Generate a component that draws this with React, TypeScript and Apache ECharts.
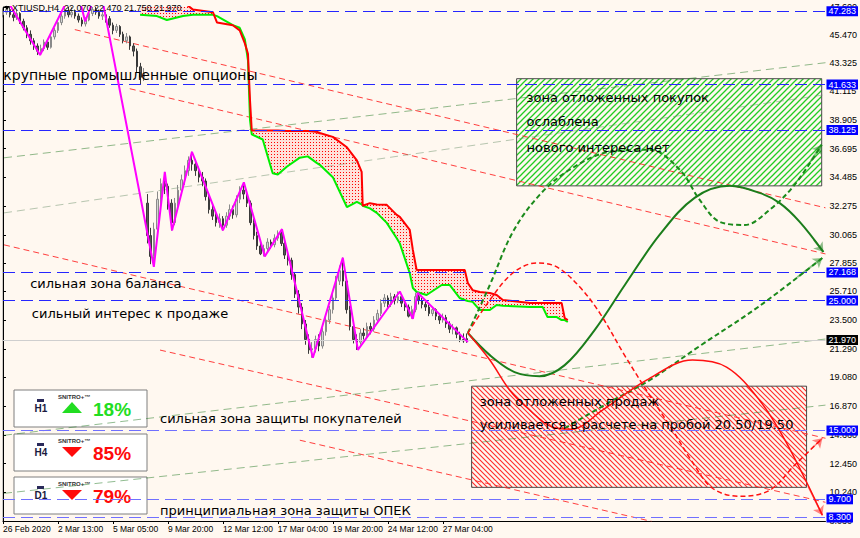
import React, { useEffect, useRef } from "react";
import * as echarts from "echarts";

// ---------- data ----------
const headerText = "XTIUSD,H4  22.070 22.470 21.750 21.970";

const timeLabels = ["26 Feb 2020", "2 Mar 13:00", "5 Mar 05:00", "9 Mar 20:00", "12 Mar 12:00", "17 Mar 04:00", "19 Mar 20:00", "24 Mar 12:00", "27 Mar 04:00"];
const timeLabelBars = [0, 16, 32, 48, 64, 80, 96, 112, 128];
const barsMax = 239.4;

const priceTicks = [8.03, 10.24, 12.45, 14.66, 16.87, 19.08, 21.29, 23.5, 25.71, 27.855, 30.065, 32.275, 34.485, 36.695, 38.905, 41.115, 43.325, 45.47, 47.6];
const priceMin = 8.03;
const priceMax = 47.6;

// [open, close, low, high]
const candles = [
  [47.0, 47.2, 46.8, 47.5], [47.2, 47.4, 47.0, 47.7], [47.4, 47.0, 46.8, 47.6], [47.0, 46.8, 46.5, 47.2],
  [46.8, 47.1, 46.6, 47.4], [47.1, 46.5, 46.3, 47.2], [46.5, 46.0, 45.8, 46.7], [46.0, 45.5, 45.2, 46.2],
  [45.5, 45.0, 44.7, 45.8], [45.0, 44.6, 44.3, 45.2], [44.6, 44.2, 43.9, 44.8], [44.2, 44.4, 44.0, 44.7],
  [44.4, 44.9, 44.2, 45.1], [44.9, 44.5, 44.3, 45.0], [44.5, 45.3, 44.4, 45.5], [45.3, 45.8, 45.1, 46.0],
  [45.8, 46.4, 45.6, 46.6], [46.4, 46.9, 46.2, 47.1], [46.9, 47.3, 46.7, 47.6], [47.3, 47.0, 46.8, 47.6],
  [47.0, 47.2, 46.8, 47.6], [47.2, 46.9, 46.7, 47.4], [46.9, 46.6, 46.4, 47.1], [46.6, 46.3, 46.1, 46.8],
  [46.3, 46.6, 46.1, 46.8], [46.6, 47.1, 46.5, 47.3], [47.1, 47.4, 46.9, 47.6], [47.4, 47.2, 47.0, 47.6],
  [47.2, 46.9, 46.7, 47.4], [46.9, 47.0, 46.6, 47.3], [47.0, 46.7, 46.4, 47.2], [46.7, 46.2, 46.0, 46.9],
  [46.2, 45.8, 45.5, 46.4], [45.8, 46.1, 45.6, 46.3], [46.1, 45.5, 45.3, 46.2], [45.5, 45.0, 44.8, 45.7],
  [45.0, 45.3, 44.8, 45.6], [45.3, 44.6, 44.3, 45.4], [44.6, 44.2, 43.8, 44.8], [44.2, 43.0, 42.6, 44.4],
  [43.0, 42.2, 41.6, 43.3], [42.2, 42.5, 41.9, 42.9], [32.5, 30.0, 29.4, 33.2], [30.0, 28.4, 27.8, 30.6],
  [28.4, 30.5, 27.6, 31.0], [30.5, 32.8, 30.2, 33.4], [32.8, 34.0, 32.2, 34.4], [34.0, 33.8, 33.2, 34.9],
  [33.8, 32.5, 32.0, 34.0], [32.5, 31.0, 30.4, 32.8], [31.0, 32.5, 30.8, 32.9], [32.5, 33.5, 32.1, 33.9],
  [33.5, 34.3, 33.2, 34.7], [34.3, 35.0, 33.9, 35.4], [35.0, 35.8, 34.6, 36.1], [35.8, 35.5, 35.0, 36.45],
  [35.5, 35.0, 34.6, 35.9], [35.0, 34.5, 34.1, 35.3], [34.5, 34.2, 33.8, 34.9], [34.2, 33.0, 32.7, 34.4],
  [33.0, 32.0, 31.7, 33.3], [32.0, 31.5, 31.2, 32.4], [31.5, 31.0, 30.7, 31.8], [31.0, 31.3, 30.6, 31.7],
  [31.3, 30.8, 30.4, 31.5], [30.8, 31.5, 30.6, 31.8], [31.5, 32.0, 31.2, 32.4], [32.0, 31.6, 31.3, 32.3],
  [31.6, 32.8, 31.4, 33.1], [32.8, 33.5, 32.5, 33.8], [33.5, 33.2, 32.8, 34.1], [33.2, 32.5, 32.2, 33.5],
  [32.5, 31.0, 30.8, 32.7], [31.0, 30.0, 29.7, 31.3], [30.0, 29.2, 28.9, 30.3], [29.2, 28.6, 28.5, 29.6],
  [28.6, 29.0, 28.4, 29.3], [29.0, 29.5, 28.8, 29.8], [29.5, 29.3, 29.0, 29.7], [29.3, 29.8, 29.1, 30.1],
  [29.8, 30.2, 29.6, 30.4], [30.2, 29.4, 29.2, 30.5], [29.4, 28.5, 28.2, 29.6], [28.5, 28.1, 27.7, 28.7],
  [28.1, 27.0, 26.6, 28.3], [27.0, 25.5, 25.2, 27.2], [25.5, 24.5, 24.0, 25.8], [24.5, 23.2, 22.8, 24.8],
  [23.2, 22.0, 21.6, 23.5], [22.0, 21.2, 20.9, 22.4], [21.2, 21.3, 20.6, 21.8], [21.3, 22.0, 21.0, 22.3],
  [22.0, 21.5, 21.1, 22.4], [21.5, 22.6, 21.3, 22.9], [22.6, 23.5, 22.3, 23.8], [23.5, 24.3, 23.2, 24.6],
  [24.3, 25.2, 24.0, 25.5], [25.2, 26.5, 25.0, 26.9], [26.5, 27.3, 26.2, 27.7], [27.3, 26.5, 26.1, 28.3],
  [26.5, 24.3, 24.0, 26.8], [24.3, 23.0, 22.7, 24.6], [23.0, 22.0, 21.7, 23.3], [22.0, 21.8, 21.2, 22.4],
  [21.8, 22.5, 21.6, 22.8], [22.5, 22.3, 22.0, 22.9], [22.3, 23.0, 22.1, 23.3], [23.0, 22.8, 22.4, 23.3],
  [22.8, 23.5, 22.6, 23.8], [23.5, 24.0, 23.2, 24.3], [24.0, 24.8, 23.8, 25.1], [24.8, 25.2, 24.5, 25.5],
  [25.2, 24.7, 24.4, 25.4], [24.7, 25.3, 24.5, 25.6], [25.3, 25.0, 24.7, 25.5], [25.0, 25.3, 24.8, 25.7],
  [25.3, 24.8, 24.5, 25.5], [24.8, 24.5, 24.2, 25.0], [24.5, 23.8, 23.7, 24.7], [23.8, 24.3, 23.6, 24.6],
  [24.3, 25.3, 24.1, 25.6], [25.3, 25.0, 24.7, 25.5], [25.0, 24.7, 24.4, 25.2], [24.7, 24.5, 24.2, 24.9],
  [24.5, 24.0, 23.8, 24.7], [24.0, 24.3, 23.8, 24.5], [24.3, 23.8, 23.5, 24.4], [23.8, 23.5, 23.2, 24.0],
  [23.5, 23.7, 23.3, 24.0], [23.7, 23.2, 22.9, 23.9], [23.2, 22.8, 22.5, 23.4], [22.8, 22.9, 22.4, 23.2],
  [22.9, 22.4, 22.1, 23.0], [22.4, 22.0, 21.8, 22.6], [22.0, 21.9, 21.75, 22.47], [22.07, 21.97, 21.75, 22.47],
];

// zigzag vertices [bar, price]
const zigzag = [
  [0.3, 48.5], [10.8, 43.9], [21.1, 49.4], [23.9, 46.5], [28.1, 49.3], [43.9, 27.6], [47.1, 34.9], [49.2, 30.4],
  [55.0, 36.45], [64.0, 30.4], [70.1, 34.1], [76.2, 28.4], [81.2, 30.5], [90.2, 20.6], [98.9, 28.3],
  [103.3, 21.2], [115.5, 25.7], [119.3, 23.6], [120.7, 25.6], [135.3, 21.8],
];

// cloud: bar, red span, green span
const cloudBars = [39.9, 44.8, 47.7, 52.4, 55.3, 61.1, 62.3, 66.9, 68.9, 70.4, 71.3, 71.9, 72.4, 75.6, 78.5, 80.0, 82.6, 86.4, 88.7, 91.3, 92.2, 96.0, 100.1, 103.0, 104.4, 104.7, 106.8, 108.8, 111.7, 114.6, 115.5, 118.4, 119.3, 120.4, 123.3, 127.7, 130.0, 132.9, 134.4, 135.3, 136.7, 138.8, 141.7, 143.7, 145.5, 153.3, 157.1, 158.5, 161.2, 162.6, 163.5, 164.4];
const cloudRed = [48.5, 48.5, 48.5, 48.0, 47.4, 47.2, 46.4, 46.2, 45.8, 44.8, 44.0, 40.4, 38.1, 38.1, 38.1, 38.1, 38.05, 38.05, 38.05, 38.0, 37.9, 37.6, 36.8, 35.8, 34.9, 32.3, 32.5, 32.4, 32.37, 31.6, 31.45, 30.44, 28.9, 27.35, 27.35, 27.35, 27.35, 27.35, 27.35, 26.35, 25.8, 25.66, 25.58, 25.43, 25.04, 24.81, 24.81, 24.81, 24.81, 24.81, 23.65, 23.5];
const cloudGreen = [47.0, 46.9, 46.6, 46.9, 47.0, 47.0, 46.9, 46.2, 46.0, 45.1, 43.5, 38.9, 37.8, 37.4, 34.8, 34.7, 35.3, 36.0, 36.1, 35.6, 35.45, 34.5, 32.2, 32.6, 32.4, 32.3, 32.1, 31.75, 30.98, 29.8, 29.4, 27.1, 25.97, 25.66, 25.43, 26.2, 26.2, 25.2, 25.04, 24.97, 24.9, 24.27, 24.27, 24.66, 24.6, 24.5, 24.5, 23.73, 23.73, 23.5, 23.5, 23.35];

const levels = [47.283, 41.633, 38.125, 27.168, 25.0, 15.0, 9.7, 8.3];
const lastPrice = 21.97;

const redTrendLines = [
  [[20.9, 45.86], [239.4, 32.14]],
  [[36.9, 41.31], [239.4, 28.59]],
  [[0.3, 29.29], [239.4, 14.4]],
  [[45.7, 21.19], [239.4, 9.47]],
  [[86.4, 14.25], [188.8, 8.0]],
];
const greenTrendLines = [
  [[0.3, 35.99], [239.4, 43.31]],
  [[0.3, 31.75], [239.4, 40.85]],
  [[0.3, 14.63], [239.4, 22.04]],
  [[0.3, 10.16], [239.4, 16.95]],
];

const greenSolidPath = [[135.3, 22.5], [141.7, 20.8], [148.9, 19.49], [156.2, 19.18], [163.5, 20.03], [172.2, 22.73], [181.0, 26.2], [191.1, 30.05], [201.3, 32.91], [211.5, 33.83], [220.2, 33.29], [226.0, 32.52], [231.9, 31.06], [238.8, 28.74]];
const greenDashUpPath = [[135.3, 22.5], [141.7, 26.2], [148.4, 30.28], [156.2, 33.14], [164.9, 35.07], [176.6, 36.45], [188.2, 36.61], [197.0, 35.07], [202.8, 32.75], [208.6, 31.06], [215.9, 30.82], [223.1, 31.98], [230.4, 33.91], [238.3, 36.99]];
const greenDashRecoveryPath = [[163.5, 15.17], [176.6, 17.18], [188.2, 18.87], [202.8, 21.5], [220.2, 24.58], [238.5, 28.28]];
const redDashPath = [[135.3, 22.5], [141.7, 25.04], [148.4, 27.12], [155.3, 27.89], [161.2, 27.59], [167.9, 26.04], [173.7, 24.04], [180.9, 20.8], [188.2, 17.72], [194.9, 15.02], [200.7, 12.55], [206.5, 10.55], [214.4, 9.93], [223.1, 10.39], [230.4, 12.32], [238.5, 14.4]];
const redSolidPath = [[135.3, 22.5], [141.7, 20.42], [147.5, 18.1], [152.4, 16.79], [160.0, 15.25], [165.5, 15.1], [174.5, 16.56], [187.3, 18.87], [200.7, 20.42], [210.6, 19.88], [220.2, 17.33], [228.1, 14.02], [238.5, 8.47]];

const buyZone = { from: 149.5, to: 238.3, low: 33.83, high: 42.08 };
const sellZone = { from: 136.4, to: 233.9, low: 10.62, high: 18.41 };

const notes = [
  { text: "крупные промышленные опционы", bar: 0.1, price: 42.39, kind: "big" },
  { text: "сильная зона баланса", bar: 7.9, price: 26.28, kind: "level" },
  { text: "сильный интерес к продаже", bar: 8.4, price: 24.04, kind: "level" },
  { text: "сильная зона защиты покупателей", bar: 45.7, price: 15.94, kind: "level" },
  { text: "принципиальная зона защиты ОПЕК", bar: 45.7, price: 8.85, kind: "level" },
  { text: "зона отложенных покупок", bar: 152.4, price: 40.62, kind: "box" },
  { text: "ослаблена", bar: 152.4, price: 38.77, kind: "box" },
  { text: "нового интереса нет", bar: 152.4, price: 36.76, kind: "box" },
  { text: "зона отложенных продаж", bar: 138.8, price: 17.25, kind: "box" },
  { text: "усиливается в расчете на пробой 20.50/19.50", bar: 138.8, price: 15.48, kind: "box" },
];

const signalTimeframes = ["H1", "H4", "D1"];
const signalUp = [true, false, false];
const signalPercent = [18, 85, 79];

// ---------- helpers ----------
function makeCanvas(w: number, h: number, draw: (ctx: CanvasRenderingContext2D) => void) {
  const c = document.createElement("canvas");
  c.width = w;
  c.height = h;
  const ctx = c.getContext("2d") as CanvasRenderingContext2D;
  draw(ctx);
  return c;
}

const FONT = "'DejaVu Sans', 'Noto Sans', sans-serif";
const AXFONT = "'Liberation Sans', Arial, sans-serif";

export default function App() {
  const ref = useRef<HTMLDivElement>(null);

  useEffect(() => {
    if (!ref.current) return;
    const chart = echarts.init(ref.current, undefined, { renderer: "svg" });

    const dots = makeCanvas(3, 3, (ctx) => {
      ctx.fillStyle = "rgba(255,60,60,0.12)";
      ctx.fillRect(0, 0, 3, 3);
      ctx.fillStyle = "#ff0000";
      ctx.fillRect(1, 1, 1, 1);
    });
    const hatchGreen = makeCanvas(6, 6, (ctx) => {
      ctx.strokeStyle = "#22cc22";
      ctx.lineWidth = 1.3;
      ctx.beginPath();
      ctx.moveTo(0, 6); ctx.lineTo(6, 0);
      ctx.moveTo(-1, 1); ctx.lineTo(1, -1);
      ctx.moveTo(5, 7); ctx.lineTo(7, 5);
      ctx.stroke();
    });
    const hatchRed = makeCanvas(5, 5, (ctx) => {
      ctx.strokeStyle = "#ff2a2a";
      ctx.lineWidth = 1.1;
      ctx.beginPath();
      ctx.moveTo(0, 0); ctx.lineTo(5, 5);
      ctx.moveTo(-1, 4); ctx.lineTo(1, 6);
      ctx.moveTo(4, -1); ctx.lineTo(6, 1);
      ctx.stroke();
    });

    const forecasts = [
      { path: greenSolidPath, color: "#1b7d1b", type: "solid", width: 2 },
      { path: greenDashUpPath, color: "#1b8a1b", type: [5, 3], width: 2 },
      { path: greenDashRecoveryPath, color: "#1b8a1b", type: [5, 3], width: 2 },
      { path: redDashPath, color: "#ff1010", type: [5, 3], width: 1.5 },
      { path: redSolidPath, color: "#ff1010", type: "solid", width: 1.5 },
    ];

    const arrowData = forecasts.map((f) => {
      const a = f.path[f.path.length - 2];
      const b = f.path[f.path.length - 1];
      const s = [a[0] + (b[0] - a[0]) * 0.6, a[1] + (b[1] - a[1]) * 0.6];
      return { coords: [s, b], lineStyle: { color: f.color, width: f.width, type: "solid" } };
    });

    const levelColor = (v: number) => (v < 16 ? "#7070ff" : "#2626ff");

    const option: any = {
      animation: false,
      backgroundColor: "#fff8f0",
      grid: { left: 3, right: 34, top: 7, bottom: 17 },
      xAxis: {
        type: "value",
        min: 0,
        max: barsMax,
        splitLine: { show: false },
        axisLine: { show: true, lineStyle: { color: "#000", width: 1 } },
        axisTick: { show: true, customValues: timeLabelBars, length: 3, lineStyle: { color: "#000" } },
        axisLabel: {
          customValues: timeLabelBars,
          formatter: (v: number) => {
            const k = timeLabelBars.indexOf(v);
            return k >= 0 ? timeLabels[k] : "";
          },
          align: "left",
          fontSize: 8.5,
          fontFamily: AXFONT,
          color: "#000",
          margin: 3,
        },
      },
      yAxis: {
        type: "value",
        position: "right",
        min: priceMin,
        max: priceMax,
        scale: true,
        splitLine: { show: false },
        axisLine: { show: true, lineStyle: { color: "#000", width: 1 } },
        axisTick: { show: true, customValues: priceTicks, length: 3, lineStyle: { color: "#000" } },
        axisLabel: {
          customValues: priceTicks,
          formatter: (v: number) => v.toFixed(3),
          fontSize: 9,
          fontFamily: AXFONT,
          color: "#000",
          margin: 4,
        },
      },
      series: [
        {
          type: "line",
          data: [],
          silent: true,
          z: 1,
          markArea: {
            silent: true,
            data: [
              [
                { coord: [buyZone.from, buyZone.high], itemStyle: { color: { image: hatchGreen, repeat: "repeat" }, borderColor: "#4a4a4a", borderWidth: 1 } },
                { coord: [buyZone.to, buyZone.low] },
              ],
              [
                { coord: [sellZone.from, sellZone.high], itemStyle: { color: { image: hatchRed, repeat: "repeat" }, borderColor: "#4a4a4a", borderWidth: 1 } },
                { coord: [sellZone.to, sellZone.low] },
              ],
            ],
          },
        },
        {
          type: "lines",
          coordinateSystem: "cartesian2d",
          silent: true,
          z: 2,
          data: redTrendLines.map((c) => ({ coords: c })),
          lineStyle: { color: "#ff2a2a", width: 1, type: [6, 4], opacity: 0.9 },
        },
        {
          type: "lines",
          coordinateSystem: "cartesian2d",
          silent: true,
          z: 2,
          data: greenTrendLines.map((c, k) => ({ coords: c, lineStyle: { color: k === 1 ? "#6f946f" : "#247a24" } })),
          lineStyle: { width: 1, type: [8, 5] },
        },
        {
          type: "candlestick",
          data: candles.map((c, k) => [k, c[0], c[1], c[2], c[3]]),
          barWidth: 2,
          silent: true,
          z: 3,
          itemStyle: { color: "#d4d4d4", color0: "#585858", borderColor: "#8a8a8a", borderColor0: "#3a3a3a", borderWidth: 1 },
        },
        {
          type: "custom",
          coordinateSystem: "cartesian2d",
          clip: true,
          silent: true,
          z: 3,
          data: [[cloudBars[0], cloudRed[0]]],
          renderItem: (_params: any, api: any) => {
            const top = cloudBars.map((b, k) => api.coord([b, cloudRed[k]]));
            const bottom = cloudBars.map((b, k) => api.coord([b, Math.min(cloudRed[k], cloudGreen[k])])).reverse();
            return {
              type: "polygon",
              shape: { points: top.concat(bottom) },
              style: { fill: { image: dots, repeat: "repeat" }, stroke: "none" },
            };
          },
        },
        {
          type: "line",
          data: cloudBars.map((b, k) => [b, cloudGreen[k]]),
          showSymbol: false,
          silent: true,
          lineStyle: { color: "#00ee00", width: 2 },
          z: 4,
        },
        {
          type: "line",
          data: cloudBars.map((b, k) => [b, cloudRed[k]]),
          showSymbol: false,
          silent: true,
          lineStyle: { color: "#ff0000", width: 2 },
          z: 4,
        },
        {
          type: "line",
          data: zigzag,
          showSymbol: false,
          silent: true,
          lineStyle: { color: "#ff00ff", width: 2 },
          z: 5,
        },
        {
          type: "line",
          data: [],
          silent: true,
          z: 6,
          markLine: {
            silent: true,
            symbol: "none",
            data: [
              ...levels.map((v) => ({
                yAxis: v,
                lineStyle: { color: levelColor(v), type: [12, 6], width: 1 },
                label: {
                  show: true,
                  position: "end",
                  distance: 1,
                  formatter: v.toFixed(3),
                  backgroundColor: "#0000ff",
                  color: "#fff",
                  fontSize: 9,
                  fontFamily: AXFONT,
                  padding: [1, 2, 0, 2],
                },
              })),
              {
                yAxis: lastPrice,
                lineStyle: { color: "#cfcfcf", type: "solid", width: 1 },
                label: {
                  show: true,
                  position: "end",
                  distance: 1,
                  formatter: lastPrice.toFixed(3),
                  backgroundColor: "#000",
                  color: "#fff",
                  fontSize: 9,
                  fontFamily: AXFONT,
                  padding: [1, 2, 0, 2],
                },
              },
            ],
          },
        },
        ...forecasts.map((f) => ({
          type: "line",
          data: f.path,
          smooth: 0.35,
          showSymbol: false,
          silent: true,
          lineStyle: { color: f.color, width: f.width, type: f.type },
          z: 7,
        })),
        {
          type: "lines",
          coordinateSystem: "cartesian2d",
          silent: true,
          z: 7,
          symbol: ["none", "arrow"],
          symbolSize: [0, 9],
          data: arrowData,
        },
      ],
    };

    chart.setOption(option);

    const graphics: any[] = [];
    const top = chart.convertToPixel({ gridIndex: 0 }, [0, priceMax]) as number[];
    const bot = chart.convertToPixel({ gridIndex: 0 }, [0, priceMin]) as number[];
    graphics.push({ type: "line", shape: { x1: top[0], y1: top[1], x2: bot[0], y2: bot[1] }, style: { stroke: "#9a9a9a", lineWidth: 1 }, silent: true });

    graphics.push({ type: "polygon", shape: { points: [[4, 6], [10, 6], [7, 10]] }, style: { fill: "#000" }, silent: true, z: 100 });
    graphics.push({ type: "text", x: 12, y: 8, style: { text: headerText, font: `9px ${AXFONT}`, fill: "#000", verticalAlign: "middle" }, silent: true, z: 100 });

    notes.forEach((n) => {
      const p = chart.convertToPixel({ gridIndex: 0 }, [n.bar, n.price]) as number[];
      const size = n.kind === "big" ? 14 : 13;
      graphics.push({
        type: "text",
        x: p[0],
        y: p[1],
        silent: true,
        z: 100,
        style: { text: n.text, font: `${size}px ${FONT}`, fill: "#000", verticalAlign: "middle" },
      });
    });

    const boxTops = [390, 434, 477];
    signalTimeframes.forEach((tf, k) => {
      const up = signalUp[k];
      const col = up ? "#22dd22" : "#ff0a0a";
      graphics.push({
        type: "group",
        x: 14,
        y: boxTops[k],
        silent: true,
        z: 100,
        children: [
          { type: "rect", shape: { x: 0, y: 0, width: 133, height: 37 }, style: { fill: "#ffffff", stroke: "#7f7f7f", lineWidth: 1 } },
          { type: "rect", shape: { x: 23, y: 9, width: 7, height: 3 }, style: { fill: "#2a2a5a" } },
          { type: "text", x: 20.5, y: 13, style: { text: tf, font: `bold 10px ${AXFONT}`, fill: "#1a1a40" } },
          { type: "text", x: 44, y: 4, style: { text: "SNITRO+™", font: `bold 6px ${AXFONT}`, fill: "#333" } },
          {
            type: "polygon",
            shape: { points: up ? [[48, 23], [58, 12], [68, 23]] : [[48, 13], [68, 13], [58, 23]] },
            style: { fill: col },
          },
          { type: "text", x: 79, y: 19, style: { text: signalPercent[k] + "%", font: `bold 19px ${AXFONT}`, fill: col, verticalAlign: "middle" } },
        ],
      });
    });

    chart.setOption({ graphic: graphics });

    return () => chart.dispose();
  }, []);

  return <div ref={ref} style={{ position: "fixed", left: 0, top: 0, width: 860, height: 538 }} />;
}
